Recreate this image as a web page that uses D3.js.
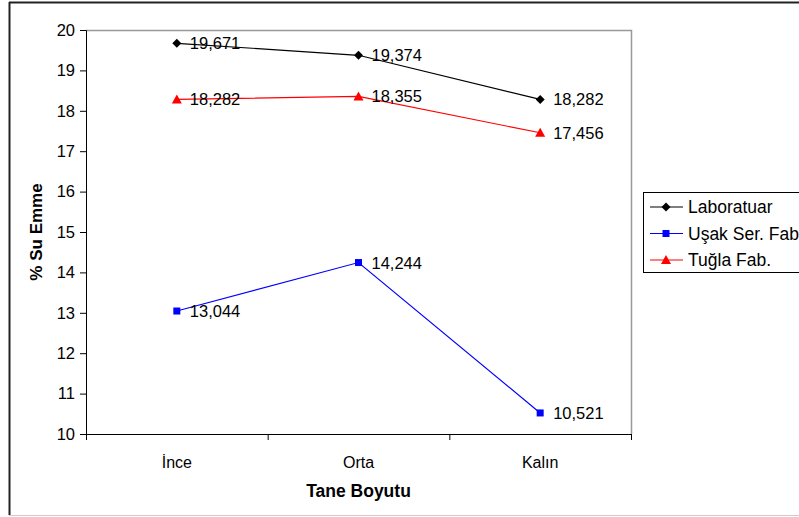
<!DOCTYPE html>
<html><head><meta charset="utf-8">
<script src="https://cdn.jsdelivr.net/npm/d3@7/dist/d3.min.js"></script>
<style>body{margin:0;background:#fff}svg{display:block;font-family:"Liberation Sans",Arial,sans-serif}</style>
</head><body>
<svg id="c" width="799" height="517"></svg>
<script>
const categories = ["İnce", "Orta", "Kalın"];
const seriesNames = ["Laboratuar", "Uşak Ser. Fab", "Tuğla Fab."];
const laboratuar = [19.671, 19.374, 18.282];
const usak = [13.044, 14.244, 10.521];
const tugla = [18.282, 18.355, 17.456];
const yTicks = [10, 11, 12, 13, 14, 15, 16, 17, 18, 19, 20];

const series = [
  {name: seriesNames[0], values: laboratuar, color: "#000000", marker: "diamond"},
  {name: seriesNames[1], values: usak, color: "#0000ff", marker: "square"},
  {name: seriesNames[2], values: tugla, color: "#ff0000", marker: "triangle"}
];

const svg = d3.select("#c");
const L = 86, T = 30, R = 631, B = 434;

// outer frame
svg.append("line").attr("x1", 9).attr("x2", 799).attr("y1", 2.5).attr("y2", 2.5).attr("stroke", "#222").attr("stroke-width", 2);
svg.append("line").attr("x1", 9.5).attr("x2", 9.5).attr("y1", 2).attr("y2", 515).attr("stroke", "#222").attr("stroke-width", 2);
svg.append("line").attr("x1", 9).attr("x2", 799).attr("y1", 515.5).attr("y2", 515.5).attr("stroke", "#ccc").attr("stroke-width", 1);

const x = d3.scaleBand().domain(categories).range([L, R]);
const y = d3.scaleLinear().domain([10, 20]).range([B, T]);

// plot area border (grey top/right)
svg.append("path").attr("d", `M${L},${T + 0.5}H${R + 0.5}V${B}`).attr("fill", "none").attr("stroke", "#999").attr("stroke-width", 1.5);

// y axis
const yAxis = svg.append("g").attr("transform", `translate(${L},0)`)
  .call(d3.axisLeft(y).tickValues(yTicks).tickSize(6).tickPadding(5).tickFormat(d3.format("d")));
yAxis.select(".domain").attr("stroke", "#000");
yAxis.selectAll("text").attr("font-size", 16.5).attr("fill", "#000").attr("font-family", "Liberation Sans, Arial, sans-serif");

// x axis
const xAxis = svg.append("g").attr("transform", `translate(0,${B})`);
xAxis.append("line").attr("x1", L).attr("x2", R + 0.5).attr("y1", 0.5).attr("y2", 0.5).attr("stroke", "#000");
const bounds = [L].concat(categories.map(c => x(c) + x.bandwidth()));
xAxis.selectAll("line.tk").data(bounds).enter().append("line").attr("class", "tk")
  .attr("x1", d => d + 0.5).attr("x2", d => d + 0.5).attr("y1", 0).attr("y2", 6).attr("stroke", "#000");
xAxis.selectAll("text").data(categories).enter().append("text")
  .attr("x", d => x(d) + x.bandwidth() / 2).attr("y", 34).attr("text-anchor", "middle")
  .attr("font-size", 16).text(d => d);

// axis titles
svg.append("text").attr("transform", `translate(42,232) rotate(-90)`).attr("text-anchor", "middle")
  .attr("font-size", 17).attr("font-weight", "bold").text("% Su Emme");
svg.append("text").attr("x", (L + R) / 2).attr("y", 497).attr("text-anchor", "middle")
  .attr("font-size", 17.5).attr("font-weight", "bold").text("Tane Boyutu");

const cx = c => x(c) + x.bandwidth() / 2;
function drawMarker(g, type, color) {
  if (type === "diamond") g.append("path").attr("d", "M0,-4.5L4.5,0L0,4.5L-4.5,0Z").attr("fill", color);
  else if (type === "square") g.append("rect").attr("x", -3.5).attr("y", -3.5).attr("width", 7).attr("height", 7).attr("fill", color);
  else g.append("path").attr("d", "M0,-5L5,4L-5,4Z").attr("fill", color);
}
const line = d3.line().x((d, i) => cx(categories[i])).y(d => y(d));
const fmt = v => v.toFixed(3).replace(".", ",");

series.forEach(s => {
  svg.append("path").datum(s.values).attr("d", line).attr("fill", "none").attr("stroke", s.color).attr("stroke-width", 1.2);
  s.values.forEach((v, i) => {
    const g = svg.append("g").attr("transform", `translate(${cx(categories[i])},${y(v)})`);
    drawMarker(g, s.marker, s.color);
    svg.append("text").attr("x", cx(categories[i]) + 13).attr("y", y(v) + 6)
      .attr("font-size", 16.5).attr("fill", "#000").text(fmt(v));
  });
});

// legend
const lg = svg.append("g");
lg.append("rect").attr("x", 643.5).attr("y", 192.5).attr("width", 170).attr("height", 80).attr("fill", "#fff").attr("stroke", "#000");
series.forEach((s, i) => {
  const yy = 207 + i * 26.5;
  lg.append("line").attr("x1", 650).attr("x2", 683).attr("y1", yy).attr("y2", yy).attr("stroke", s.color).attr("stroke-width", 1.2);
  const g = lg.append("g").attr("transform", `translate(666,${yy})`);
  drawMarker(g, s.marker, s.color);
  lg.append("text").attr("x", 688).attr("y", yy + 6).attr("font-size", 17.5).text(s.name);
});
</script>
</body></html>
